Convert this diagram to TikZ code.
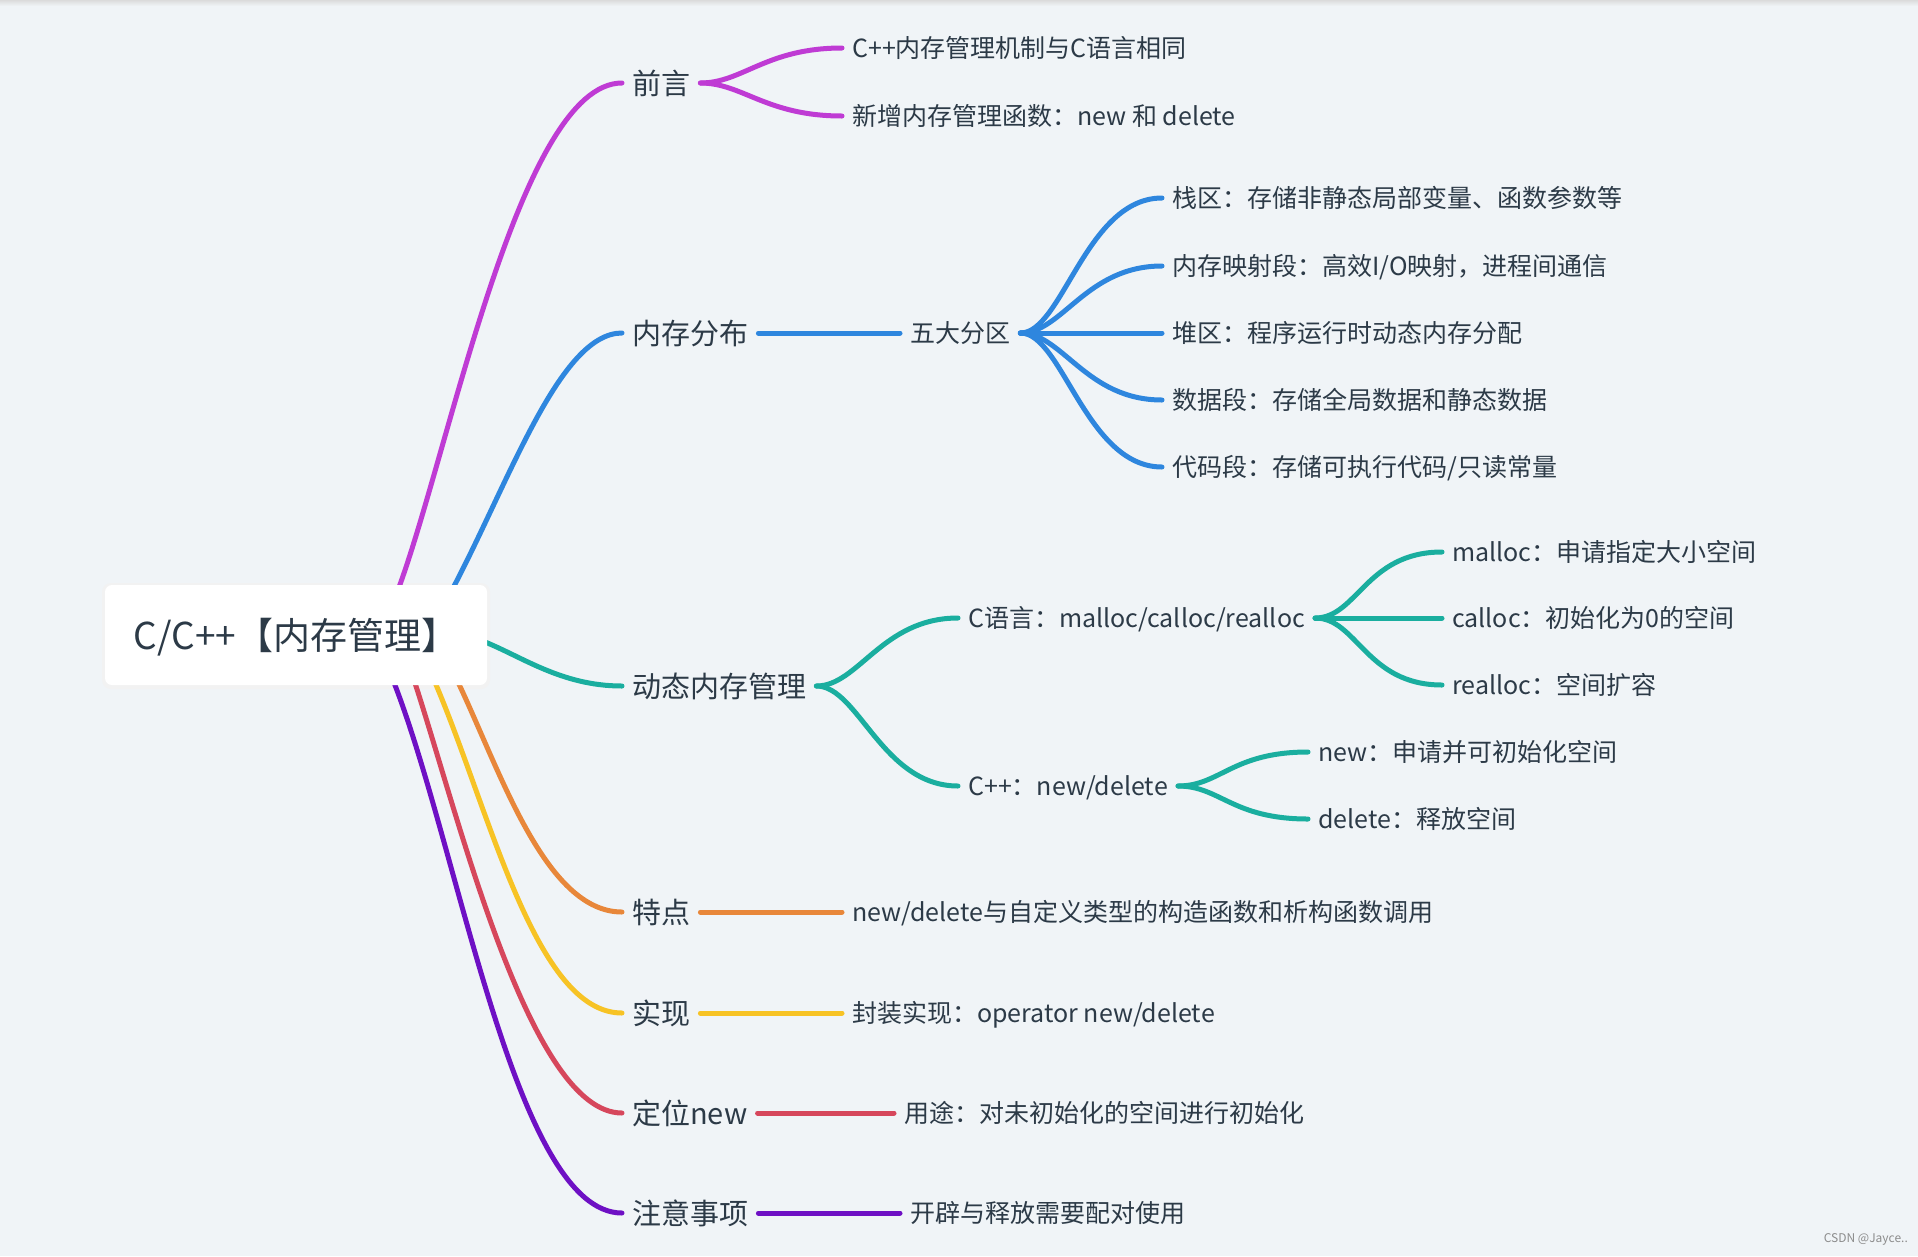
\documentclass[tikz,border=0pt]{standalone}
\usepackage{fontspec}
\setmainfont{Noto Sans CJK SC}
\usetikzlibrary{backgrounds,calc}
\definecolor{bgc}{HTML}{F0F4F7}
\definecolor{txt}{HTML}{2C3A47}
\definecolor{cmag}{HTML}{BF3BD4}
\definecolor{cblue}{HTML}{2E86DE}
\definecolor{cteal}{HTML}{1AAE9F}
\definecolor{corange}{HTML}{E8873A}
\definecolor{cyellow}{HTML}{F7C325}
\definecolor{cred}{HTML}{D6475C}
\definecolor{cpurple}{HTML}{6E10C4}
\newcommand\fanc[3]{\draw[br,#1] (#2.east) .. controls ($(#2.east)+(42,0)$) and ($(#3.west)+(-76,0)$) .. (#3.west);}
\begin{document}
\begin{tikzpicture}[x=1pt,y=-1pt,
  lbl/.style={anchor=west, inner xsep=10pt, inner ysep=0pt, text=txt},
  mainlbl/.style={lbl, font=\fontsize{29}{35}\selectfont, text height=25.5pt, text depth=3.5pt},
  sublbl/.style={lbl, font=\fontsize{25}{30}\selectfont, text height=22pt, text depth=3pt},
  br/.style={line width=5pt, line cap=round},
  rootbox/.style={fill=white, rounded corners=7pt, minimum width=382pt, minimum height=100pt, inner sep=0pt, text=txt, font=\fontsize{37}{44}\selectfont, text height=32.5pt, text depth=4.5pt}
]
\useasboundingbox (0,0) rectangle (1918,1256);

% root
\node[rootbox] (root) at (296,635) {C/C++【内存管理】};

% main branches
\node[mainlbl] (m1) at (622,83) {前言};
\node[mainlbl] (m2) at (622,333) {内存分布};
\node[mainlbl] (m3) at (622,686) {动态内存管理};
\node[mainlbl] (m4) at (622,912) {特点};
\node[mainlbl] (m5) at (622,1013) {实现};
\node[mainlbl] (m6) at (622,1113) {定位new};
\node[mainlbl] (m7) at (622,1213) {注意事项};

% 前言
\node[sublbl] (a1) at (842,48) {C++内存管理机制与C语言相同};
\node[sublbl] (a2) at (842,116) {新增内存管理函数：new 和 delete};

% 内存分布
\node[sublbl] (b0) at (900,333) {五大分区};
\node[sublbl] (b1) at (1162,198) {栈区：存储非静态局部变量、函数参数等};
\node[sublbl] (b2) at (1162,266) {内存映射段：高效I/O映射，进程间通信};
\node[sublbl] (b3) at (1162,333) {堆区：程序运行时动态内存分配};
\node[sublbl] (b4) at (1162,400) {数据段：存储全局数据和静态数据};
\node[sublbl] (b5) at (1162,467) {代码段：存储可执行代码/只读常量};

% 动态内存管理
\node[sublbl] (c1) at (958,618) {C语言：malloc/calloc/realloc};
\node[sublbl] (c2) at (958,786) {C++：new/delete};
\node[sublbl] (c11) at (1442,552) {malloc：申请指定大小空间};
\node[sublbl] (c12) at (1442,618) {calloc：初始化为0的空间};
\node[sublbl] (c13) at (1442,685) {realloc：空间扩容};
\node[sublbl] (c21) at (1308,752) {new：申请并可初始化空间};
\node[sublbl] (c22) at (1308,819) {delete：释放空间};

% others
\node[sublbl] (d1) at (842,912) {new/delete与自定义类型的构造函数和析构函数调用};
\node[sublbl] (e1) at (842,1013) {封装实现：operator new/delete};
\node[sublbl] (f1) at (894,1113) {用途：对未初始化的空间进行初始化};
\node[sublbl] (g1) at (900,1213) {开辟与释放需要配对使用};

\node[anchor=east, inner sep=0pt, text=black!45, font=\fontsize{12}{14}\selectfont] (wm) at (1908,1239) {CSDN @Jayce..};

% start coordinates on root box
\coordinate (s1) at (398,590);
\coordinate (s2) at (452,590);
\coordinate (s3) at (480,640);
\coordinate (s4) at (457,680);
\coordinate (s5) at (434,680);
\coordinate (s6) at (414,680);
\coordinate (s7) at (393,680);

\begin{scope}[on background layer]
  \fill[bgc] (0,0) rectangle (1918,1256);
  \shade[top color=black!14, bottom color=bgc] (0,0) rectangle (1918,6);
  \fill[black!5, rounded corners=9pt] (102,583) rectangle (490,689);

  \draw[br,cmag] (s1) .. controls (450,450) and (520,83) .. (m1.west);
  \draw[br,cblue] (s2) .. controls (510,480) and (560,333) .. (m2.west);
  \draw[br,cteal] (s3) .. controls (520,655) and (560,686) .. (m3.west);
  \draw[br,corange] (s4) .. controls (500,770) and (545,912) .. (m4.west);
  \draw[br,cyellow] (s5) .. controls (490,810) and (535,1013) .. (m5.west);
  \draw[br,cred] (s6) .. controls (460,820) and (530,1113) .. (m6.west);
  \draw[br,cpurple] (s7) .. controls (460,850) and (515,1213) .. (m7.west);

  \fanc{cmag}{m1}{a1}
  \fanc{cmag}{m1}{a2}

  \draw[br,cblue] (m2.east) -- (b0.west);
  \fanc{cblue}{b0}{b1}
  \fanc{cblue}{b0}{b2}
  \fanc{cblue}{b0}{b3}
  \fanc{cblue}{b0}{b4}
  \fanc{cblue}{b0}{b5}

  \fanc{cteal}{m3}{c1}
  \fanc{cteal}{m3}{c2}
  \fanc{cteal}{c1}{c11}
  \fanc{cteal}{c1}{c12}
  \fanc{cteal}{c1}{c13}
  \fanc{cteal}{c2}{c21}
  \fanc{cteal}{c2}{c22}

  \draw[br,corange] (m4.east) -- (d1.west);
  \draw[br,cyellow] (m5.east) -- (e1.west);
  \draw[br,cred] (m6.east) -- (f1.west);
  \draw[br,cpurple] (m7.east) -- (g1.west);
\end{scope}
\end{tikzpicture}
\end{document}
